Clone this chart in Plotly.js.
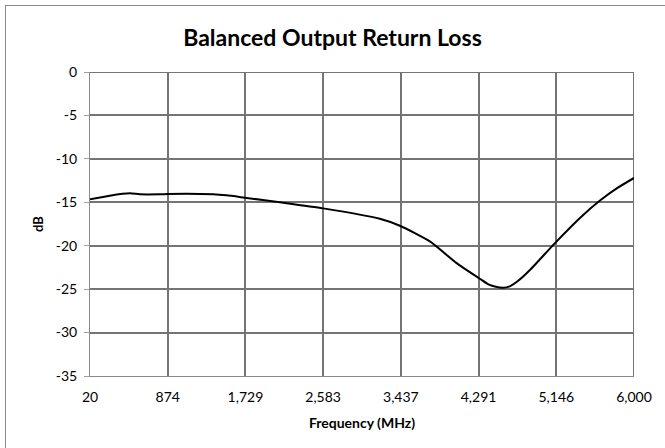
<!DOCTYPE html>
<html>
<head>
<meta charset="utf-8">
<script src="https://cdn.plot.ly/plotly-3.0.1.min.js"></script>
<style>
  html, body { margin: 0; padding: 0; background: #fff; }
  #wrap { position: relative; width: 665px; height: 448px; overflow: hidden; }
  #chart { position: absolute; left: 0; top: 0; width: 665px; height: 448px; }
  #frame { position: absolute; left: 5px; top: 5px; width: 700px; height: 500px;
           border-left: 1px solid #8a8a8a; border-top: 1px solid #8a8a8a; pointer-events: none; }
</style>
</head>
<body>
<div id="wrap">
  <div id="chart"></div>
  <div id="frame"></div>
</div>
<script>
// Frequency (MHz) and return loss (dB)
const freqMHz = [20, 237, 457, 567, 787, 878, 1373, 1520, 1722, 2107, 2583, 3206, 3426, 3756, 4050, 4305, 4400, 4470, 4563, 4640, 4720, 4856, 5131, 5406, 5626, 5810, 6000];
const returnLossDb = [-14.65, -14.24, -13.97, -14.08, -14.08, -14.04, -14.08, -14.2, -14.47, -15.0, -15.7, -16.9, -17.7, -19.5, -22.0, -23.8, -24.45, -24.7, -24.85, -24.65, -24.1, -22.8, -19.7, -16.8, -14.8, -13.4, -12.2];

const xTickVals = [20, 874.29, 1728.57, 2582.86, 3437.14, 4291.43, 5145.71, 6000];
const xTickText = ["20", "874", "1,729", "2,583", "3,437", "4,291", "5,146", "6,000"];
const yTickVals = [0, -5, -10, -15, -20, -25, -30, -35];
const yTickText = ["0", "-5", "-10", "-15", "-20", "-25", "-30", "-35"];

const fontFam = "Lato, 'Open Sans', sans-serif";
const gridCol = '#747474';

Plotly.newPlot('chart', [{
  x: freqMHz,
  y: returnLossDb,
  type: 'scatter',
  mode: 'lines',
  line: { color: '#000000', width: 2, shape: 'spline', smoothing: 0.6 },
  hoverinfo: 'skip'
}], {
  width: 665, height: 448,
  margin: { l: 90, r: 31, t: 72, b: 72, pad: 0 },
  paper_bgcolor: '#ffffff',
  plot_bgcolor: '#ffffff',
  showlegend: false,
  title: {
    text: '<b>Balanced Output Return Loss</b>',
    font: { family: fontFam, size: 23, color: '#000' },
    x: 0.5, xref: 'container', xanchor: 'center',
    y: 0.915, yref: 'container', yanchor: 'middle'
  },
  shapes: [
    { type: 'line', xref: 'paper', yref: 'y', x0: 0, x1: 1, y0: 0, y1: 0, line: { color: gridCol, width: 2 }, layer: 'below' },
    { type: 'line', xref: 'x', yref: 'paper', x0: 6000, x1: 6000, y0: 0, y1: 1, line: { color: gridCol, width: 2 }, layer: 'below' }
  ],
  xaxis: {
    range: [20, 6000],
    tickmode: 'array', tickvals: xTickVals, ticktext: xTickText,
    showgrid: true, gridcolor: gridCol, gridwidth: 2,
    zeroline: false,
    showline: true, linecolor: '#8a8a8a', linewidth: 1,
    ticks: '', ticklen: 0, ticklabelstandoff: 8,
    tickfont: { family: fontFam, size: 14, color: '#000' },
    title: { text: '<b>Frequency (MHz)</b>', font: { family: fontFam, size: 14, color: '#000' }, standoff: 14 }
  },
  yaxis: {
    range: [-35, 0],
    tickmode: 'array', tickvals: yTickVals, ticktext: yTickText,
    showgrid: true, gridcolor: gridCol, gridwidth: 2,
    zeroline: false,
    showline: true, linecolor: '#8a8a8a', linewidth: 1,
    ticks: 'outside', ticklen: 5, tickcolor: '#a0a0a0', tickwidth: 1,
    ticklabelstandoff: 4,
    tickfont: { family: fontFam, size: 14, color: '#000' },
    title: { text: '<b>dB</b>', font: { family: fontFam, size: 13, color: '#000' }, standoff: 9 }
  }
}, { staticPlot: true, displayModeBar: false });
</script>
</body>
</html>
